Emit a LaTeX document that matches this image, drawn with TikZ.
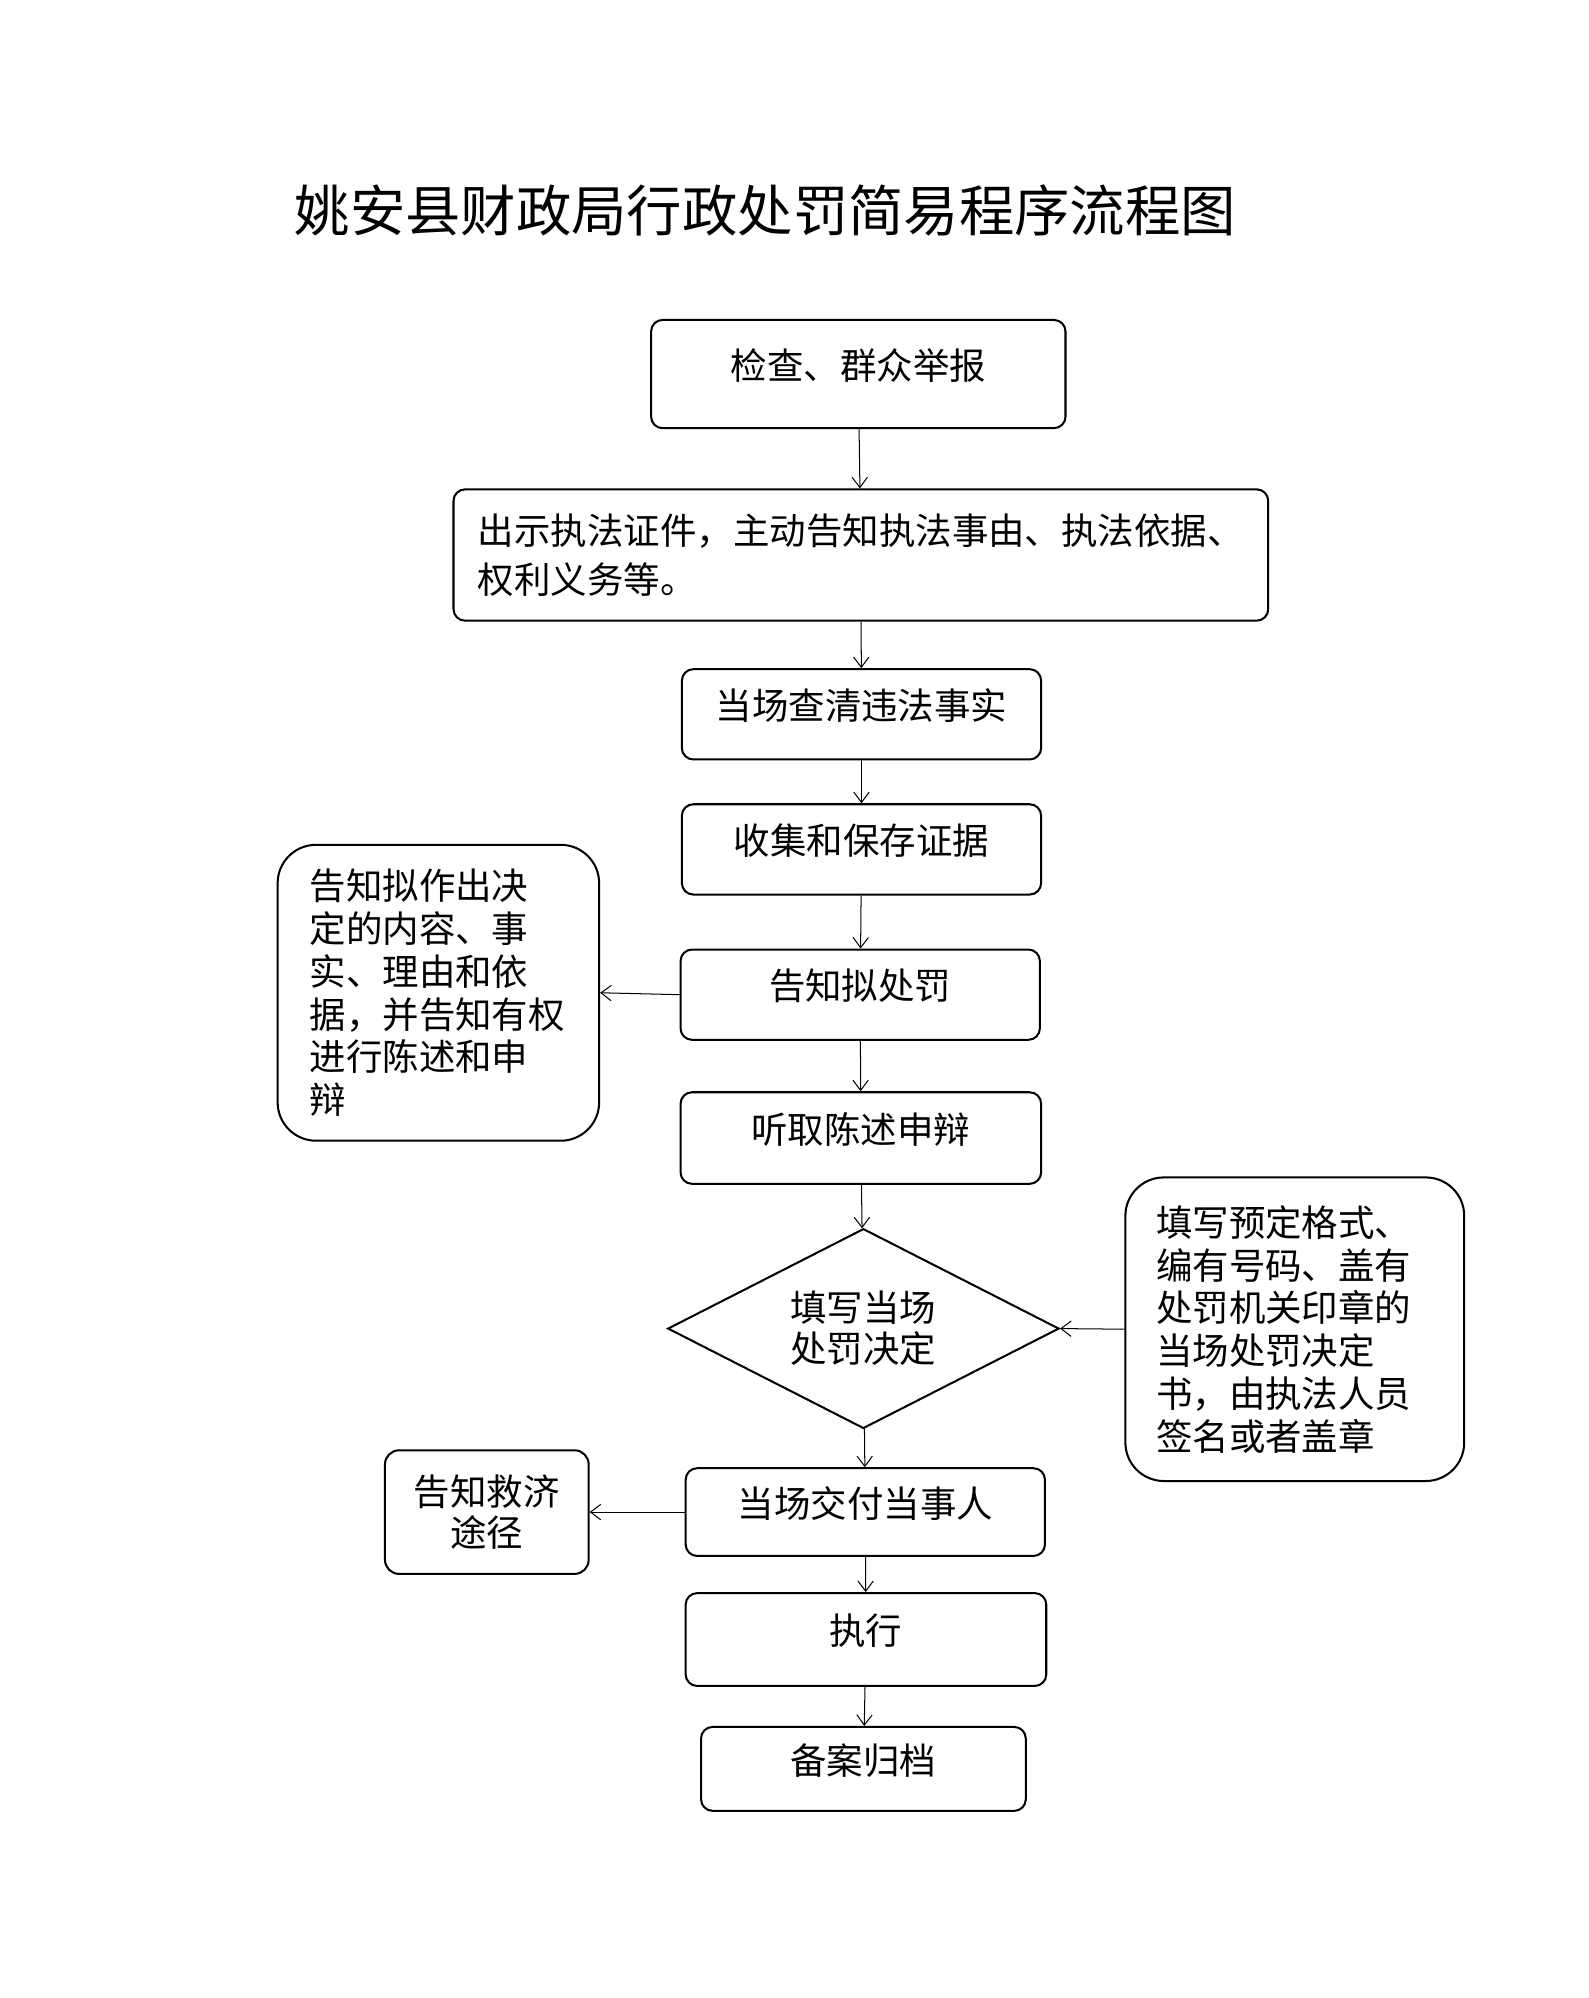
\documentclass[tikz,border=0pt]{standalone}
\usepackage{fontspec}
\setmainfont{Noto Sans CJK SC}
\usetikzlibrary{positioning,shapes.geometric,arrows.meta}

\begin{document}
\begin{tikzpicture}[
    x=0.0199cm, y=-0.0199cm,
    >={Straight Barb[length=1.6mm,width=2.4mm]},
    every node/.style={font=\fontsize{16.2pt}{21.6pt}\selectfont},
    flowbox/.style={draw, line width=0.9pt, rounded corners=0.18cm, align=center, inner sep=0pt},
    onebox/.style={flowbox, text depth=9pt},
    sidebox/.style={draw, line width=0.9pt, rounded corners=0.6cm, align=left, inner ysep=0pt,
        font=\fontsize{16.2pt}{19pt}\selectfont},
    link/.style={->, line width=0.45pt}
]
    \useasboundingbox (0,0) rectangle (1246.2,1567.8);

    % title
    \node[anchor=west, font=\fontsize{24.6pt}{30pt}\selectfont] (title) at (225,165) {姚安县财政局行政处罚简易程序流程图};

    % main column
    \node[onebox, minimum width=6.47cm, minimum height=1.69cm] (check) at (673.5,293.5) {检查、群众举报};
    \node[flowbox, align=left, minimum width=12.72cm, minimum height=2.05cm] (show) at (675.5,435.5)
        {出示执法证件，主动告知执法事由、执法依据、\\权利义务等。};
    \node[onebox, minimum width=5.61cm, minimum height=1.41cm] (facts) at (676,560.5) {当场查清违法事实};
    \node[onebox, minimum width=5.61cm, minimum height=1.41cm] (proof) at (676,666.5) {收集和保存证据};
    \node[onebox, minimum width=5.61cm, minimum height=1.41cm] (inform) at (675,780.5) {告知拟处罚};
    \node[onebox, minimum width=5.63cm, minimum height=1.43cm] (hear) at (675.5,893) {听取陈述申辩};
    \node[diamond, draw, line width=0.9pt, minimum width=6.11cm, minimum height=3.12cm, shape aspect=1.96,
        inner sep=0pt, align=center, font=\fontsize{16.2pt}{18.2pt}\selectfont] (decide) at (677.5,1042.5)
        {填写当场\\处罚决定};
    \node[onebox, minimum width=5.61cm, minimum height=1.37cm] (deliver) at (679,1186.5) {当场交付当事人};
    \node[onebox, minimum width=5.63cm, minimum height=1.45cm] (execute) at (679.5,1286.5) {执行};
    \node[onebox, minimum width=5.07cm, minimum height=1.31cm] (archive) at (677.5,1388) {备案归档};

    % side boxes
    \node[sidebox, text width=4.02cm, inner xsep=0.5cm, minimum height=4.62cm] (rights) at (344,779)
        {告知拟作出决\\定的内容、事\\实、理由和依\\据，并告知有权\\进行陈述和申\\辩};
    \node[sidebox, text width=4.33cm, inner xsep=0.48cm, minimum height=4.74cm] (form) at (1016,1043)
        {填写预定格式、\\编有号码、盖有\\处罚机关印章的\\当场处罚决定\\书，由执法人员\\签名或者盖章};
    \node[flowbox, rounded corners=0.22cm, minimum width=3.18cm, minimum height=1.93cm,
        font=\fontsize{16.2pt}{18.2pt}\selectfont] (remedy) at (382,1186.5) {告知救济\\途径};

    % connectors
    \draw[link] (check) -- (show);
    \draw[link] (show) -- (facts);
    \draw[link] (facts) -- (proof);
    \draw[link] (proof) -- (inform);
    \draw[link] (inform) -- (hear);
    \draw[link] (hear) -- (decide);
    \draw[link] (decide) -- (deliver);
    \draw[link] (deliver) -- (execute);
    \draw[link] (execute) -- (archive);
    \draw[link] (inform.west) -- (rights.east);
    \draw[link] (form.west) -- (decide.east);
    \draw[link] (deliver.west) -- (remedy.east);
\end{tikzpicture}
\end{document}
